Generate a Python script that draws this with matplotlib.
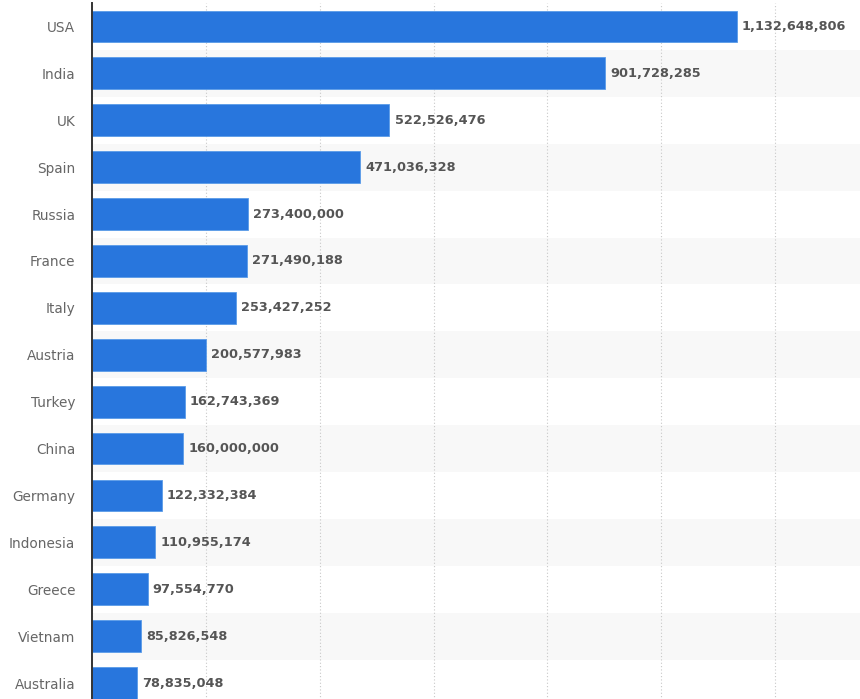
import matplotlib.pyplot as plt
from matplotlib.ticker import MultipleLocator

# countries and values (top to bottom)
countries = ['USA', 'India', 'UK', 'Spain', 'Russia', 'France', 'Italy', 'Austria',
             'Turkey', 'China', 'Germany', 'Indonesia', 'Greece', 'Vietnam', 'Australia']
values = [1132648806, 901728285, 522526476, 471036328, 273400000, 271490188,
          253427252, 200577983, 162743369, 160000000, 122332384, 110955174,
          97554770, 85826548, 78835048]

bar_color = '#2876dd'

fig = plt.figure(figsize=(8.6, 6.99), dpi=100)
# axes runs a bit past the bottom edge, like in the original crop
ax = fig.add_axes([92 / 860, -7.5 / 699, 768 / 860, 703.5 / 699])

n = len(countries)
pos = list(range(n))

# alternating row stripes
for i in pos:
    if i % 2 == 1:
        ax.axhspan(i - 0.5, i + 0.5, color='#f8f8f8', zorder=0, lw=0)

ax.barh(pos, values, height=0.68, color=bar_color, edgecolor='#5a9be8',
        linewidth=0.6, zorder=3)

for i, v in enumerate(values):
    ax.text(v + 9e6, i, f'{v:,}', va='center', ha='left', fontsize=9.3,
            fontweight='bold', color='#555555', family='DejaVu Sans', zorder=4)

ax.set_ylim(n - 0.5, -0.5)
ax.set_xlim(0, 1.349e9)
ax.xaxis.set_major_locator(MultipleLocator(2e8))
ax.grid(axis='x', linestyle=(0, (1, 2)), color='#c8c8c8', linewidth=0.8, zorder=1)
ax.set_axisbelow(True)

ax.set_yticks(pos)
ax.set_yticklabels(countries, fontsize=9.8, color='#666666', family='DejaVu Sans')
ax.tick_params(axis='y', length=0, pad=12)
ax.tick_params(axis='x', length=0, labelbottom=False)

for s in ['top', 'right', 'bottom']:
    ax.spines[s].set_visible(False)
ax.spines['left'].set_color('#333333')
ax.spines['left'].set_linewidth(1.4)
ax.spines['left'].set_zorder(5)

fig.savefig('out.png', dpi=100)
